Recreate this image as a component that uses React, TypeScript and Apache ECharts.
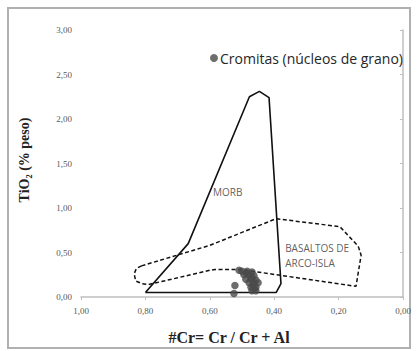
import React, { useEffect, useRef } from "react";
import * as echarts from "echarts";

const xTicks = [0, 0.2, 0.4, 0.6, 0.8, 1.0];
const yTicks = [0, 0.5, 1.0, 1.5, 2.0, 2.5, 3.0];

const morb: [number, number][] = [
  [0.8, 0.05], [0.667, 0.6], [0.477, 2.25], [0.446, 2.31], [0.416, 2.24],
  [0.379, 0.15], [0.394, 0.05], [0.8, 0.05],
];

const arcoIsla: [number, number][] = [
  [0.812, 0.35], [0.828, 0.32], [0.835, 0.26], [0.83, 0.18], [0.81, 0.15], [0.79, 0.14],
  [0.6, 0.3], [0.584, 0.31], [0.506, 0.31], [0.146, 0.12], [0.13, 0.47],
  [0.139, 0.57], [0.196, 0.79], [0.394, 0.88], [0.6, 0.58], [0.812, 0.35],
];

const cromitas: [number, number][] = [
  [0.509, 0.30], [0.5, 0.29], [0.484, 0.29], [0.469, 0.28], [0.494, 0.25],
  [0.478, 0.25], [0.463, 0.24], [0.488, 0.2], [0.472, 0.2], [0.457, 0.19],
  [0.478, 0.16], [0.463, 0.16], [0.45, 0.16], [0.472, 0.11], [0.457, 0.11],
  [0.469, 0.07], [0.457, 0.07], [0.486, 0.27], [0.47, 0.22], [0.466, 0.13],
  [0.462, 0.09], [0.522, 0.13], [0.525, 0.04],
];

const fieldLabels: { name: string; value: [number, number] }[] = [
  { name: "MORB", value: [0.59, 1.18] },
  { name: "BASALTOS DE\nARCO-ISLA", value: [0.366, 0.47] },
];

const fmt = (v: number) => v.toFixed(2).replace(".", ",");

export default function App() {
  const ref = useRef<HTMLDivElement>(null);
  useEffect(() => {
    if (!ref.current) return;
    const chart = echarts.init(ref.current, null, { renderer: "svg" });
    const axisGray = "#bfbfbf";
    chart.setOption({
      animation: false,
      backgroundColor: "#fff",
      grid: { left: 81, top: 30, width: 322, height: 267 },
      legend: {
        left: 205,
        top: 46,
        icon: "circle",
        itemWidth: 8,
        itemHeight: 8,
        itemGap: 4,
        data: ["Cromitas (núcleos de grano)"],
        textStyle: { fontFamily: "Open Sans", fontSize: 14, color: "#262626", padding: [0, 0, 0, -3] },
      },
      graphic: [
        {
          type: "rect",
          shape: { x: 8, y: 8, width: 402, height: 340 },
          style: { fill: "none", stroke: "#b0b0b0", lineWidth: 2 },
          silent: true,
        },
      ],
      xAxis: {
        type: "value",
        min: 0,
        max: 1,
        interval: 0.2,
        inverse: true,
        name: "#Cr= Cr / Cr + Al",
        nameLocation: "middle",
        nameGap: 32,
        nameTextStyle: { fontFamily: "Liberation Serif", fontWeight: "bold", fontSize: 16, color: "#222", padding: [0, 0, 0, -26] },
        axisLine: { lineStyle: { color: axisGray, width: 1.5 } },
        axisTick: { show: true, length: 3, lineStyle: { color: axisGray } },
        axisLabel: { formatter: fmt, fontFamily: "Liberation Serif", fontSize: 9, color: "#595959", margin: 9 },
        splitLine: { show: false },
      },
      yAxis: {
        type: "value",
        min: 0,
        max: 3,
        interval: 0.5,
        name: "TiO₂ (% peso)",
        nameLocation: "middle",
        nameGap: 50,
        nameRotate: 90,
        nameTextStyle: { fontFamily: "Liberation Serif", fontWeight: "bold", fontSize: 14, color: "#222", padding: [0, 0, 0, 7] },
        axisLine: { show: true, lineStyle: { color: axisGray, width: 1.5 } },
        axisTick: { show: true, length: 3, lineStyle: { color: axisGray } },
        axisLabel: { formatter: fmt, fontFamily: "Liberation Serif", fontSize: 9, color: "#595959", margin: 9 },
        splitLine: { show: false },
      },
      series: [
        {
          name: "MORB",
          type: "line",
          data: morb,
          symbol: "none",
          lineStyle: { color: "#111", width: 1.6 },
          z: 3,
        },
        {
          name: "Arco-isla",
          type: "line",
          data: arcoIsla,
          symbol: "none",
          lineStyle: { color: "#111", width: 1.5, type: [4, 2.5] },
          z: 3,
        },
        {
          name: "Cromitas (núcleos de grano)",
          type: "scatter",
          data: cromitas,
          symbol: "circle",
          symbolSize: 7.5,
          itemStyle: { color: "#4a4a4a" },
          z: 4,
        },
        {
          name: "labels",
          type: "scatter",
          data: fieldLabels,
          symbolSize: 0,
          silent: true,
          label: {
            show: true,
            position: "right",
            distance: 0,
            formatter: (p: any) => p.name,
            fontFamily: "Open Sans",
            fontSize: 10,
            lineHeight: 15,
            color: "#333",
            align: "left",
          },
          z: 5,
        },
      ],
    });
    return () => chart.dispose();
  }, []);
  return <div ref={ref} style={{ position: "fixed", left: 0, top: 0, width: 417, height: 351 }} />;
}
